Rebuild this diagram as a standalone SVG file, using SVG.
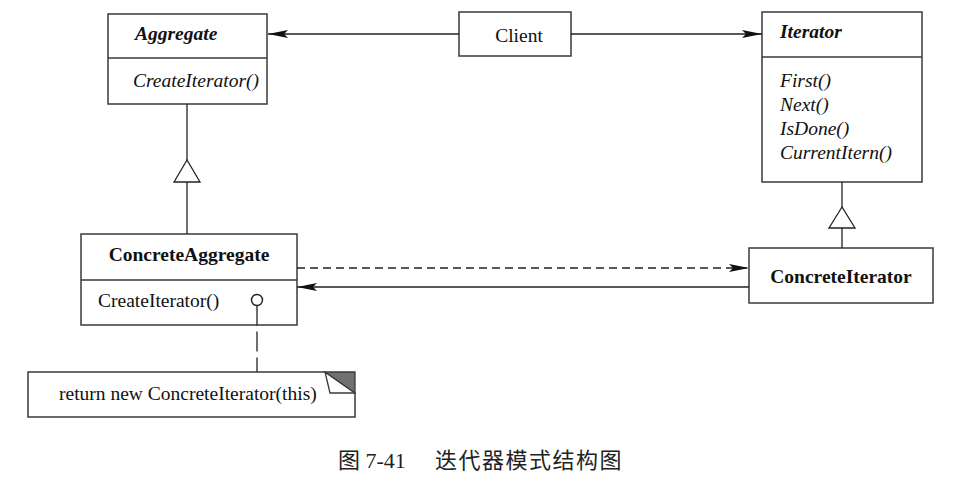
<svg xmlns="http://www.w3.org/2000/svg" width="965" height="484" viewBox="0 0 965 484">
<style>
.box{fill:#fff;stroke:#3a3a3a;stroke-width:1.5}
.ln{fill:none;stroke:#222;stroke-width:1.3}
.t{font-family:"Liberation Serif","Times New Roman",serif;font-size:19.5px;fill:#111}
.b{font-weight:bold}
.i{font-style:italic}
.m{text-anchor:middle}
</style>
<defs>
<marker id="arr" viewBox="0 0 20 8" refX="20" refY="4" markerWidth="20" markerHeight="8" markerUnits="userSpaceOnUse" orient="auto">
<path d="M0,0 L20,4 L0,8 L4,4 Z" fill="#111"/>
</marker>
</defs>
<rect width="965" height="484" fill="#fff"/>
<g id="aggregate">
<rect class="box" x="108" y="14" width="159" height="90"/>
<line class="box" x1="108" y1="58" x2="267" y2="58"/>
<text class="t b i" x="135" y="40">Aggregate</text>
<text class="t i" x="133" y="87">CreateIterator()</text>
</g>
<g id="client">
<rect class="box" x="459" y="12" width="112" height="44"/>
<text class="t m" x="519" y="42">Client</text>
</g>
<g id="iterator">
<rect class="box" x="762" y="12" width="160" height="170"/>
<line class="box" x1="762" y1="57" x2="922" y2="57"/>
<text class="t b i" x="780" y="38">Iterator</text>
<text class="t i" x="780" y="87">First()</text>
<text class="t i" x="780" y="111">Next()</text>
<text class="t i" x="780" y="135">IsDone()</text>
<text class="t i" x="780" y="159">CurrentItern()</text>
</g>
<g id="concreteAggregate">
<rect class="box" x="81" y="234" width="216" height="91"/>
<line class="box" x1="81" y1="280" x2="297" y2="280"/>
<text class="t b m" x="189" y="261">ConcreteAggregate</text>
<text class="t" x="98" y="307">CreateIterator()</text>
<circle cx="257" cy="300" r="5.5" fill="#fff" stroke="#222" stroke-width="1.4"/>
</g>
<g id="concreteIterator">
<rect class="box" x="749" y="248" width="184" height="55"/>
<text class="t b m" x="841" y="283">ConcreteIterator</text>
</g>
<g id="note">
<path class="box" d="M28,372 L325,372 L355,393 L355,417 L28,417 Z"/>
<polygon points="325,372 355,372 355,393" fill="#707070" stroke="#3a3a3a" stroke-width="1.3"/>
<polyline points="325,372 330,393 355,393" fill="none" stroke="#3a3a3a" stroke-width="1.3"/>
<text class="t" x="59" y="400">return new ConcreteIterator(this)</text>
</g>
<g id="connectors">
<line class="ln" x1="459" y1="34" x2="268" y2="34" marker-end="url(#arr)"/>
<line class="ln" x1="571" y1="34" x2="762" y2="34" marker-end="url(#arr)"/>
<line class="ln" x1="187" y1="104" x2="187" y2="160"/>
<polygon points="187,160 174,182 200,182" fill="#fff" stroke="#222" stroke-width="1.3"/>
<line class="ln" x1="187" y1="182" x2="187" y2="234"/>
<line class="ln" x1="842" y1="182" x2="842" y2="207"/>
<polygon points="842,207 829,228 855,228" fill="#fff" stroke="#222" stroke-width="1.3"/>
<line class="ln" x1="842" y1="228" x2="842" y2="248"/>
<line class="ln" x1="297" y1="268" x2="749" y2="268" stroke-dasharray="8 5" marker-end="url(#arr)"/>
<line class="ln" x1="749" y1="287" x2="297" y2="287" marker-end="url(#arr)"/>
<line class="ln" x1="257" y1="305.5" x2="257" y2="372" stroke-dasharray="20 6"/>
</g>
<text x="338" y="468" style="font-family:'Liberation Serif','Noto Sans CJK SC',serif;font-size:22px;fill:#222"><tspan>图 7-41</tspan><tspan x="435" letter-spacing="1.5">迭代器模式结构图</tspan></text>
</svg>
